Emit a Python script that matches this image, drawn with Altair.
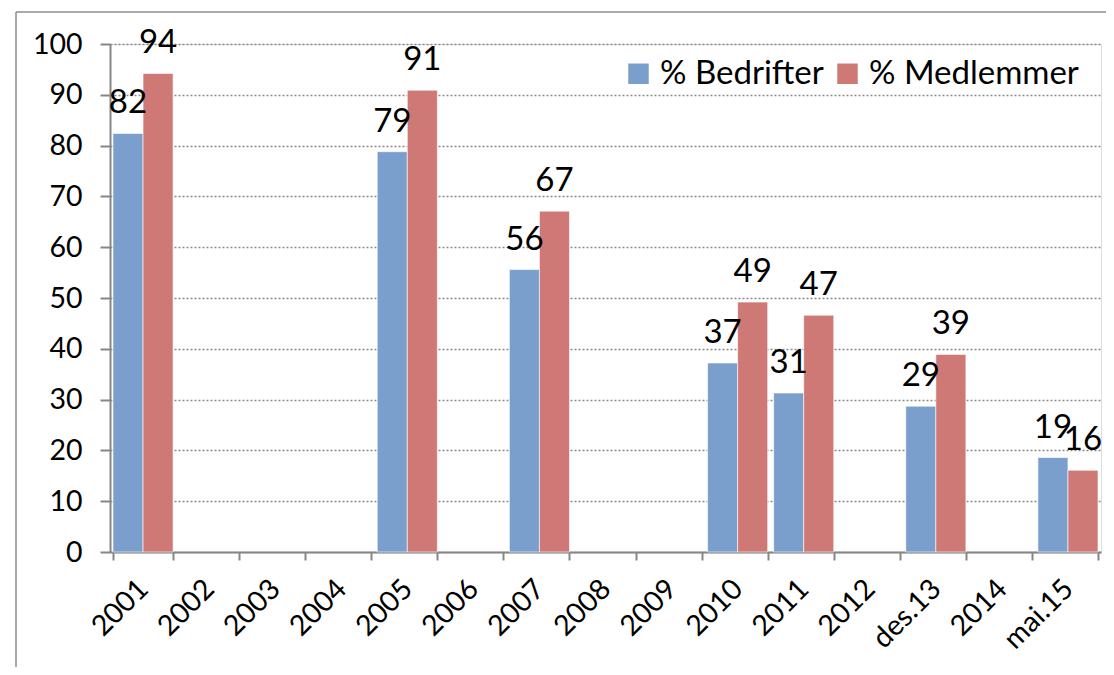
import altair as alt
import pandas as pd

categories = ["2001", "2002", "2003", "2004", "2005", "2006", "2007", "2008",
              "2009", "2010", "2011", "2012", "des.13", "2014", "mai.15"]
bedrifter = [82.4, None, None, None, 78.8, None, 55.6, None, None, 37.2, 31.3, None, 28.7, None, 18.6]
medlemmer = [94.2, None, None, None, 90.9, None, 67.1, None, None, 49.2, 46.6, None, 38.9, None, 16.1]
series = ["% Bedrifter", "% Medlemmer"]
colors = ["#7b9fcd", "#cf7977"]

rows = []
for c, b, m in zip(categories, bedrifter, medlemmer):
    if b is not None:
        rows.append({"cat": c, "series": series[0], "value": b})
    if m is not None:
        rows.append({"cat": c, "series": series[1], "value": m})
df = pd.DataFrame(rows)

FONT = "Lato"
W, H = 991, 508

x = alt.X("cat:N", sort=categories, title=None,
          scale=alt.Scale(domain=categories, paddingInner=0.09, paddingOuter=0.045),
          axis=alt.Axis(labelAngle=-45, labelAlign="right", labelBaseline="middle",
                        labelPadding=24, tickSize=8, tickBand="extent",
                        domainColor="#868686", domainWidth=2, tickColor="#868686", tickWidth=2,
                        labelFontSize=28.5, labelFont=FONT, labelColor="black"))
y = alt.Y("value:Q", title=None,
          scale=alt.Scale(domain=[0, 100], nice=False),
          axis=alt.Axis(values=list(range(0, 101, 10)), tickSize=10, labelPadding=18,
                        domainColor="#868686", domainWidth=2, tickColor="#868686", tickWidth=2,
                        grid=True, gridDash=[2, 2], gridColor="#8a8a8a", gridWidth=1.3,
                        labelFontSize=28.5, labelFont=FONT, labelColor="black"))
xoff = alt.XOffset("series:N", sort=series, scale=alt.Scale(paddingInner=0, paddingOuter=0))

base = alt.Chart(df)

bars = base.mark_bar(stroke="white", strokeOpacity=0.6, strokeWidth=1).encode(
    x=x, y=y, xOffset=xoff,
    color=alt.Color("series:N", sort=series, title=None,
                    scale=alt.Scale(domain=series, range=colors),
                    legend=alt.Legend(orient="none", legendX=512, legendY=13,
                                      direction="horizontal", symbolType="square",
                                      symbolSize=420, symbolStrokeWidth=0,
                                      labelFont=FONT, labelFontSize=33, labelColor="black",
                                      labelOffset=5, columnPadding=7, padding=0,
                                      labelLimit=400)),
)

labels = base.mark_text(font=FONT, fontSize=33, color="black", baseline="alphabetic",
                        align="center", dy=-20).encode(
    x=x, y=y, xOffset=xoff,
    text=alt.Text("value:Q", format=".0f"),
)

frame_data = alt.Data(values=[{}])
frame_left = alt.Chart(frame_data).mark_rule(color="#8c8c8c", strokeWidth=1.5).encode(
    x=alt.value(-94), y=alt.value(-32), y2=alt.value(700))
frame_top = alt.Chart(frame_data).mark_rule(color="#8c8c8c", strokeWidth=1.5).encode(
    x=alt.value(-94), x2=alt.value(1100), y=alt.value(-32))

chart = alt.layer(frame_left, frame_top, bars, labels).properties(
    width=W, height=H,
    autosize=alt.AutoSizeParams(type="none"),
    padding={"left": 102, "top": 36, "right": 5, "bottom": 115},
).configure_view(stroke=None).configure(font=FONT)

chart.save("out.html", embed_options={"renderer": "svg", "actions": False})
